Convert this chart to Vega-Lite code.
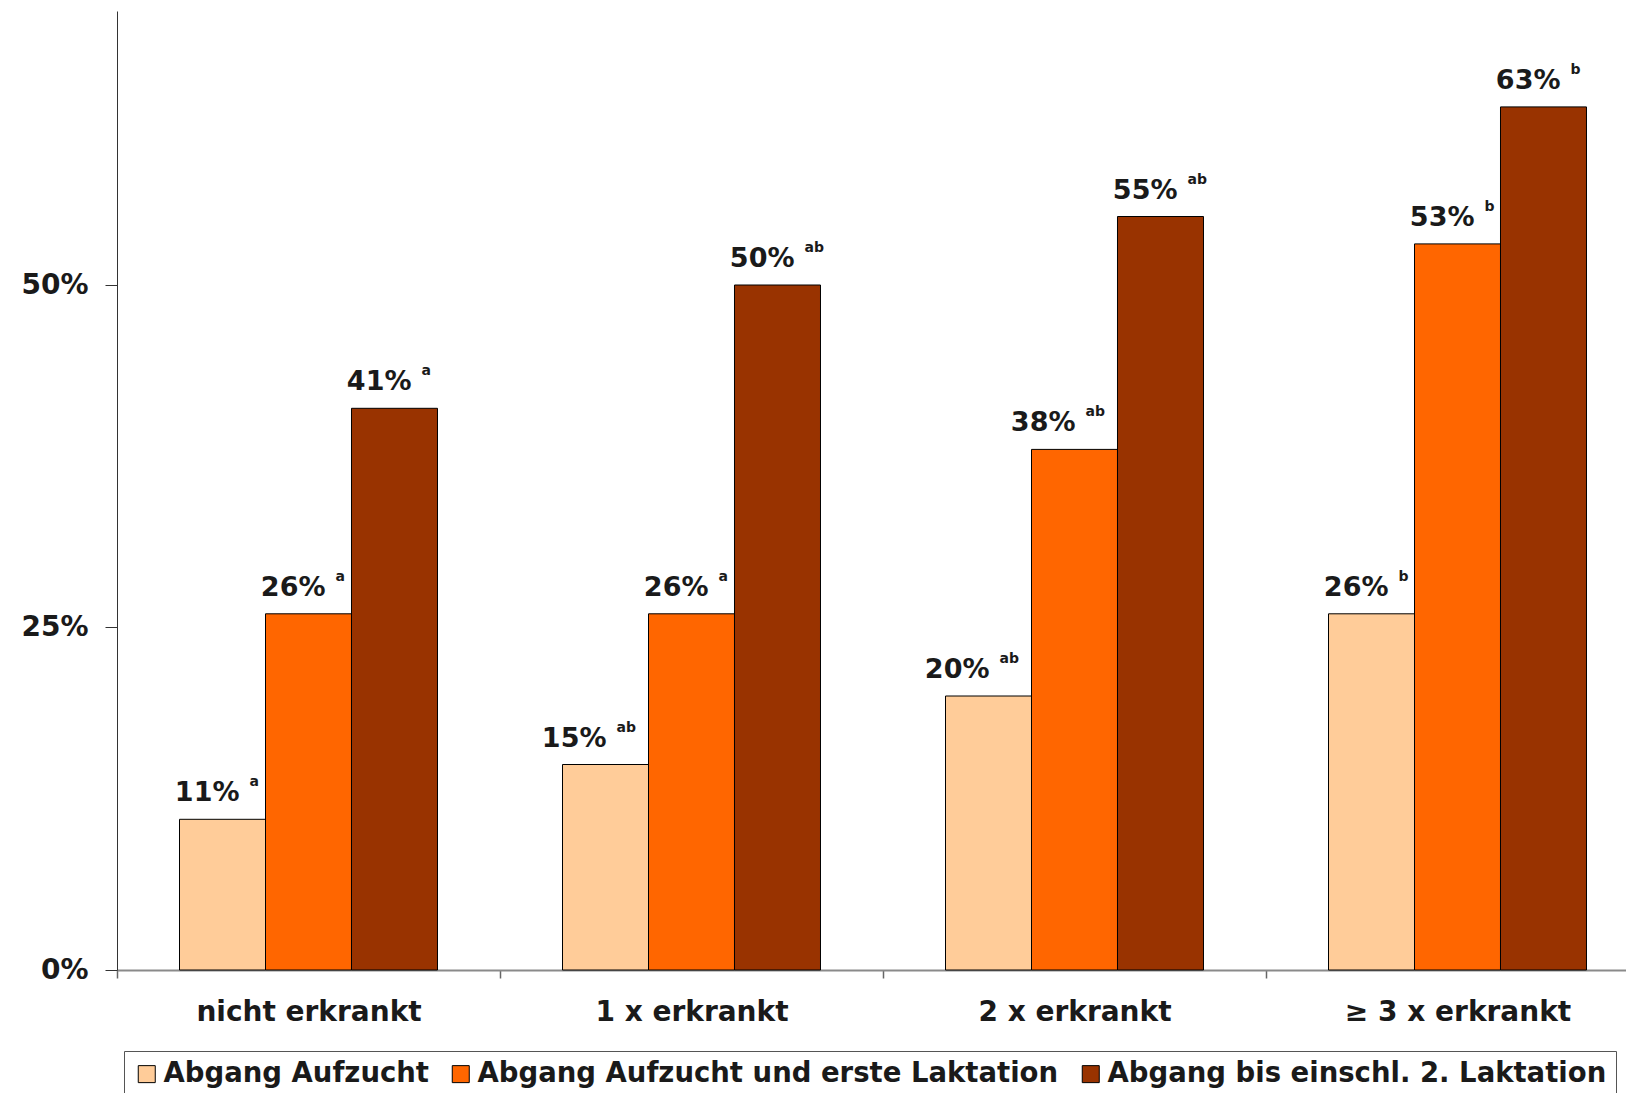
{
  "$schema": "https://vega.github.io/schema/vega-lite/v6.json",
  "width": 1509,
  "height": 959,
  "autosize": "none",
  "padding": {"left": 117, "top": 11, "right": 0, "bottom": 123},
  "background": "white",
  "config": {
    "view": {"stroke": null},
    "font": "DejaVu Sans",
    "text": {"font": "DejaVu Sans"}
  },
  "data": {
    "values": [
      {"gruppe": "nicht erkrankt", "abgang": "Abgang Aufzucht", "anteil": 0.11, "sig": "a"},
      {"gruppe": "nicht erkrankt", "abgang": "Abgang Aufzucht und erste Laktation", "anteil": 0.26, "sig": "a"},
      {"gruppe": "nicht erkrankt", "abgang": "Abgang bis einschl. 2. Laktation", "anteil": 0.41, "sig": "a"},
      {"gruppe": "1 x erkrankt", "abgang": "Abgang Aufzucht", "anteil": 0.15, "sig": "ab"},
      {"gruppe": "1 x erkrankt", "abgang": "Abgang Aufzucht und erste Laktation", "anteil": 0.26, "sig": "a"},
      {"gruppe": "1 x erkrankt", "abgang": "Abgang bis einschl. 2. Laktation", "anteil": 0.50, "sig": "ab"},
      {"gruppe": "2 x erkrankt", "abgang": "Abgang Aufzucht", "anteil": 0.20, "sig": "ab"},
      {"gruppe": "2 x erkrankt", "abgang": "Abgang Aufzucht und erste Laktation", "anteil": 0.38, "sig": "ab"},
      {"gruppe": "2 x erkrankt", "abgang": "Abgang bis einschl. 2. Laktation", "anteil": 0.55, "sig": "ab"},
      {"gruppe": "≥ 3 x erkrankt", "abgang": "Abgang Aufzucht", "anteil": 0.26, "sig": "b"},
      {"gruppe": "≥ 3 x erkrankt", "abgang": "Abgang Aufzucht und erste Laktation", "anteil": 0.53, "sig": "b"},
      {"gruppe": "≥ 3 x erkrankt", "abgang": "Abgang bis einschl. 2. Laktation", "anteil": 0.63, "sig": "b"}
    ]
  },
  "encoding": {
    "x": {
      "field": "gruppe",
      "type": "nominal",
      "sort": ["nicht erkrankt", "1 x erkrankt", "2 x erkrankt", "≥ 3 x erkrankt"],
      "scale": {"range": [0, 1532], "paddingInner": 0, "paddingOuter": 0},
      "axis": {
        "title": null,
        "labelAngle": 0,
        "labelFontSize": 28,
        "labelFontWeight": "bold",
        "labelColor": "#1a1a1a",
        "labelBaseline": "alphabetic",
        "labelPadding": 42,
        "labelLimit": 0,
        "tickBand": "extent",
        "tickSize": 8,
        "tickColor": "#666",
        "tickWidth": 1.5,
        "domainColor": "#8a8a8a",
        "domainWidth": 2,
        "grid": false
      }
    },
    "xOffset": {
      "field": "abgang",
      "type": "nominal",
      "sort": ["Abgang Aufzucht", "Abgang Aufzucht und erste Laktation", "Abgang bis einschl. 2. Laktation"],
      "scale": {"paddingInner": 0, "paddingOuter": 0.727}
    },
    "y": {
      "field": "anteil",
      "type": "quantitative",
      "scale": {"domain": [0, 0.7], "nice": false},
      "axis": {
        "title": null,
        "values": [0, 0.25, 0.5],
        "format": ".0%",
        "labelFontSize": 28,
        "labelFontWeight": "bold",
        "labelColor": "#1a1a1a",
        "labelPadding": 17,
        "tickSize": 12,
        "tickColor": "#333",
        "domainColor": "#333",
        "grid": false
      }
    }
  },
  "layer": [
    {
      "transform": [{"filter": "datum.sig === 'ab' && datum.abgang !== 'Abgang bis einschl. 2. Laktation'"}],
      "layer": [
        {
          "mark": {"type": "text", "align": "right", "baseline": "alphabetic", "dx": 1, "dy": -18, "fontSize": 27, "fontWeight": "bold", "color": "#1a1a1a"},
          "encoding": {"text": {"field": "anteil", "type": "quantitative", "format": ".0%"}}
        },
        {
          "mark": {"type": "text", "align": "left", "baseline": "alphabetic", "dx": 11, "dy": -33, "fontSize": 14, "fontWeight": "bold", "color": "#1a1a1a"},
          "encoding": {"text": {"field": "sig", "type": "nominal"}}
        }
      ]
    },
    {
      "transform": [{"filter": "!(datum.sig === 'ab' && datum.abgang !== 'Abgang bis einschl. 2. Laktation')"}],
      "layer": [
        {
          "mark": {"type": "text", "align": "right", "baseline": "alphabetic", "dx": 17, "dy": -18, "fontSize": 27, "fontWeight": "bold", "color": "#1a1a1a"},
          "encoding": {"text": {"field": "anteil", "type": "quantitative", "format": ".0%"}}
        },
        {
          "mark": {"type": "text", "align": "left", "baseline": "alphabetic", "dx": 27, "dy": -33, "fontSize": 14, "fontWeight": "bold", "color": "#1a1a1a"},
          "encoding": {"text": {"field": "sig", "type": "nominal"}}
        }
      ]
    },
    {
      "mark": {"type": "bar", "stroke": "#000", "strokeWidth": 1},
      "encoding": {
        "fill": {
          "field": "abgang",
          "type": "nominal",
          "sort": ["Abgang Aufzucht", "Abgang Aufzucht und erste Laktation", "Abgang bis einschl. 2. Laktation"],
          "scale": {
            "domain": ["Abgang Aufzucht", "Abgang Aufzucht und erste Laktation", "Abgang bis einschl. 2. Laktation"],
            "range": ["#FFCC99", "#FF6600", "#993300"]
          },
          "legend": {
            "orient": "none",
            "legendX": 7,
            "legendY": 1040,
            "direction": "horizontal",
            "title": null,
            "labelFontSize": 27.5,
            "labelFontWeight": "bold",
            "labelColor": "#1a1a1a",
            "labelLimit": 0,
            "labelOffset": 3,
            "symbolType": "square",
            "symbolSize": 289,
            "symbolStrokeColor": "#000",
            "symbolStrokeWidth": 1,
            "columnPadding": 18,
            "padding": 9,
            "strokeColor": "#555"
          }
        }
      }
    }
  ]
}
